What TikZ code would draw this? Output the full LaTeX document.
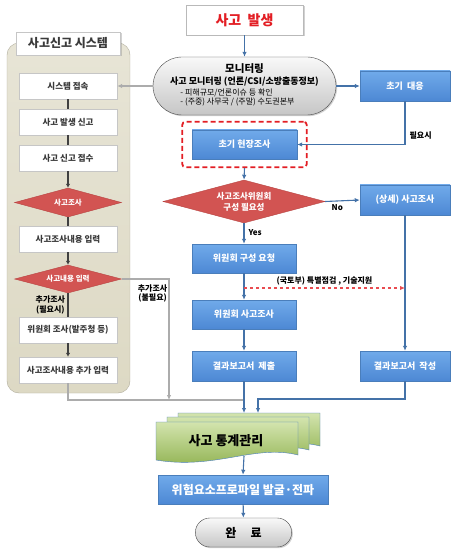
\documentclass[tikz,border=0pt]{standalone}
\usepackage{fontspec}
\setmainfont{Noto Sans CJK KR}
\usepackage{xcolor}
\usepackage{tikz}
\usetikzlibrary{arrows.meta,positioning,calc,fit,shadows,shapes.geometric,shapes.misc}
\definecolor{boxtop}{HTML}{70AAEA}
\definecolor{boxbot}{HTML}{4D88D4}
\definecolor{boxedge}{HTML}{4A7EBB}
\definecolor{linkblue}{HTML}{4472A8}
\definecolor{reddia}{HTML}{D25452}
\definecolor{reddiaedge}{HTML}{B84442}
\definecolor{panelbg}{HTML}{DDD9C4}
\definecolor{darktext}{HTML}{3A3A3A}
\definecolor{stattop}{HTML}{D3E4AE}
\definecolor{statbot}{HTML}{8DB04C}
\definecolor{alertred}{HTML}{E31E24}
\newcommand{\fsz}[2]{\fontsize{#1}{#2}\selectfont}

\begin{document}
\begin{tikzpicture}[
    x=1pt, y=-1pt,
    >={Latex[length=5pt,width=4.5pt]},
    flowbox/.style={draw=boxedge, top color=boxtop, bottom color=boxbot,
        minimum width=104pt, minimum height=29pt, inner sep=1pt,
        font=\fsz{9}{11}\bfseries, text=white,
        drop shadow={shadow xshift=1.2pt, shadow yshift=-1.2pt, opacity=0.35}},
    sysbox/.style={draw=gray!45, fill=white, minimum width=98pt,
        minimum height=26pt, inner sep=1pt, font=\fsz{8.5}{10}\bfseries,
        text=darktext},
    reddia/.style={diamond, draw=reddiaedge, fill=reddia, text=white,
        aspect=3.7, inner sep=0pt, align=center},
    pillnode/.style={rounded rectangle, draw=gray!55!black, top color=gray!5,
        bottom color=gray!45, text=black,
        drop shadow={shadow xshift=1.2pt, shadow yshift=-1.2pt, opacity=0.35}},
    statdoc/.style={draw=boxedge, top color=stattop, bottom color=statbot},
    link/.style={->, draw=linkblue, line width=1.1pt},
    graylink/.style={draw=gray!65, line width=1.4pt},
    syslink/.style={draw=gray!50!black, line width=1.8pt,
        >={Latex[length=4pt,width=4.5pt]}},
    arrlabel/.style={font=\fsz{8}{9.5}\bfseries, inner sep=1pt, text=black},
]
\fill[white] (0,0) rectangle (455,553);
\useasboundingbox (0,0) rectangle (455,553);

% left panel: reporting system
\node[draw=panelbg!80!black, top color=panelbg!70, bottom color=panelbg,
    rounded corners=12pt, minimum width=123pt, minimum height=350pt]
    (panel) at (68.5,218) {};
\node[draw=gray!45, fill=white, minimum width=104pt, minimum height=23pt,
    font=\fsz{12}{14}\bfseries, text=darktext,
    drop shadow={shadow xshift=1.5pt, shadow yshift=-1.5pt, opacity=0.35}]
    (systitle) at (68,43.5) {사고신고 시스템};

\node[sysbox] (sys1) at (68,86) {시스템 접속};
\node[sysbox] (sys2) at (68,122) {사고 발생 신고};
\node[sysbox] (sys3) at (68,158) {사고 신고 접수};
\node[reddia, minimum width=107pt, minimum height=29pt, font=\fsz{7.5}{9}\bfseries]
    (sysdia1) at (68,202.5) {사고조사};
\node[sysbox] (sys4) at (68,239) {사고조사내용 입력};
\node[reddia, minimum width=107pt, minimum height=28pt, font=\fsz{7.5}{9}\bfseries]
    (sysdia2) at (68,279) {사고내용 입력};
\node[sysbox] (sys5) at (68,330) {위원회 조사(발주청 등)};
\node[sysbox] (sys6) at (68,370) {사고조사내용 추가 입력};

\draw[syslink] (sys1) -- (sys2);
\draw[syslink] (sys2) -- (sys3);
\draw[syslink, ->] (sys3) -- (sysdia1);
\draw[syslink] (sysdia1) -- (sys4);
\draw[syslink, ->] (sys4) -- (sysdia2);
\draw[syslink] (sysdia2) -- (sys5)
    node[arrlabel, midway, left=1pt, align=center]{추가조사\\(필요시)};
\draw[syslink, ->] (sys5) -- (sys6);

% main flow
\node[draw=gray!55, fill=white, minimum width=117pt, minimum height=30pt,
    font=\fsz{14}{16}\bfseries, text=alertred,
    drop shadow={shadow xshift=1.5pt, shadow yshift=-1.5pt, opacity=0.35}]
    (start) at (244.5,20) {사고\ \ 발생};
\node[pillnode, minimum width=185pt, minimum height=58pt, inner sep=1pt,
    align=center, font=\fsz{9}{11.5}] (monitor) at (244.5,86)
    {{\fsz{10.5}{12}\bfseries 모니터링}\\
     {\bfseries 사고 모니터링 (언론/CSI/소방출동정보)}\\
     {\fsz{8}{11.5}\begin{tabular}{@{}l@{}}
        - 피해규모/언론이슈 등 확인\\[-2pt]
        - (주중) 사무국 / (주말) 수도권본부
      \end{tabular}\hspace*{14pt}}};
\node[flowbox, minimum width=90pt, minimum height=30pt] (initresp) at (405,86) {초기\ \ 대응};
\node[flowbox, minimum width=105pt] (fieldinv) at (244.5,144.5) {초기 현장조사};
\node[draw=alertred, line width=1.8pt, dash pattern=on 5pt off 3pt,
    rounded corners=3pt, inner xsep=9.5pt, inner ysep=8pt, fit=(fieldinv)]
    (fieldbox) {};
\node[reddia, minimum width=162pt, minimum height=43pt, font=\fsz{8.5}{11}\bfseries]
    (comdia) at (244,201.5) {사고조사위원회\\구성\ 필요성};
\node[flowbox, minimum width=90pt, minimum height=30pt] (detail) at (405,200) {(상세) 사고조사};
\node[flowbox] (comreq) at (244,258.5) {위원회 구성 요청};
\node[flowbox] (cominv) at (244,314.5) {위원회 사고조사};
\node[flowbox, minimum height=30pt] (reportsub) at (244,366) {결과보고서\ \ 제출};
\node[flowbox, minimum width=90pt, minimum height=30pt] (reportwr) at (405,366) {결과보고서\ \ 작성};

% statistics sheets
\foreach \dx/\dy in {22/-9,11/-5,0/0}
    \draw[statdoc, shift={(\dx,\dy)}] (156,422) -- (298,422) -- (298,455)
        .. controls (255,444) and (215,470) .. (156,460) -- cycle;
\node[font=\fsz{13}{15}\bfseries] (stat) at (226,441) {사고\ 통계관리};
\node[flowbox, minimum width=170pt, minimum height=29pt, font=\fsz{12}{14}\bfseries]
    (risk) at (243,489.5) {위험요소프로파일 발굴·전파};
\node[pillnode, minimum width=103pt, minimum height=29pt, font=\fsz{12}{14}\bfseries]
    (done) at (243.5,532.5) {완\hspace{1.2em}료};

\coordinate (dstart) at (244,288);
\coordinate (statin) at (244,413);
\coordinate (statin2) at (258,413);
\coordinate (wrbend) at (258,399);
\coordinate (graymerge) at (244,400);
\coordinate (graydrop) at (169,400);
\coordinate (statout) at (244,456);

% gray links
\draw[graylink, ->] (monitor.west) -- (sys1.east);
\draw[graylink] (sys6.south) |- (graymerge);
\draw[graylink, ->] (sysdia2.east) -| (graydrop)
    node[arrlabel, pos=0.56, left=0pt, align=center]{추가조사\\(불필요)};

% blue links
\draw[link] (start) -- (monitor);
\draw[link] (monitor.east) -- (initresp.west);
\draw[link] (initresp.south) |- (fieldinv.east)
    node[arrlabel, pos=0.4, right=3pt]{필요시};
\draw[link] (fieldbox.south) -- (comdia.north);
\draw[link] (comdia.east) -- (detail.west)
    node[arrlabel, pos=0.35, below=2pt]{No};
\draw[link] (comdia.south) -- (comreq.north)
    node[arrlabel, pos=0.45, right=3pt]{Yes};
\draw[link] (comreq) -- (cominv);
\draw[link] (cominv) -- (reportsub);
\draw[link] (detail) -- (reportwr);
\draw[->, draw=alertred!80, line width=1.1pt, dashed] (dstart) -- (dstart -| detail.south)
    node[arrlabel, midway, above=1pt]{(국토부) 특별점검 , 기술지원};
\draw[link] (reportsub.south) -- (statin);
\draw[link] (reportwr.south) |- (wrbend) -- (statin2);
\draw[link] (statout) -- (risk.north);
\draw[link] (risk) -- (done);
\end{tikzpicture}
\end{document}
